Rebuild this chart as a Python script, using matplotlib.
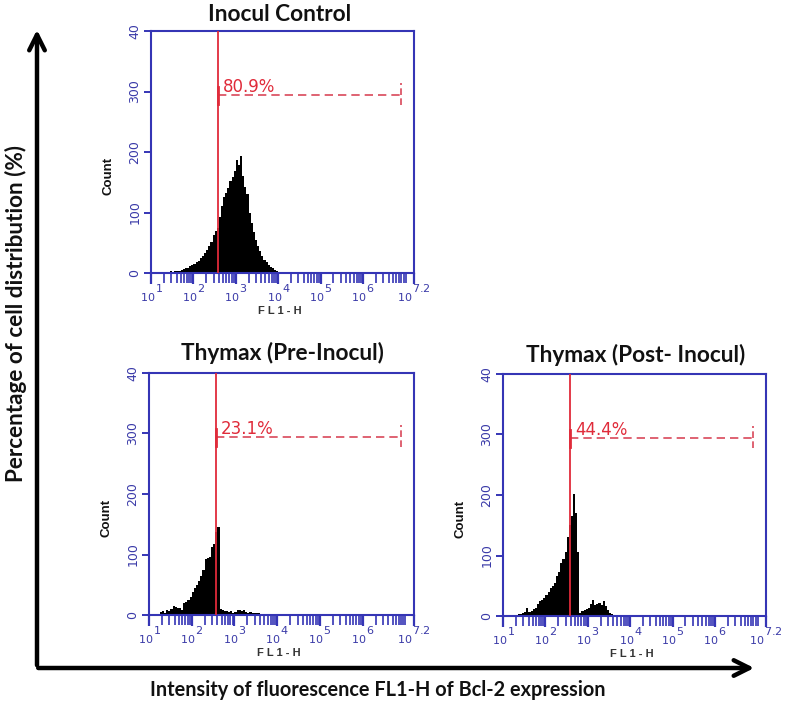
import numpy as np
import matplotlib
matplotlib.use('Agg')
import matplotlib.pyplot as plt
from matplotlib.patches import FancyArrowPatch
from matplotlib.ticker import FixedLocator, FixedFormatter, NullFormatter

# ---------------- data ----------------
titles = ['Inocul Control', 'Thymax (Pre-Inocul)', 'Thymax (Post- Inocul)']
percent_labels = ['80.9%', '23.1%', '44.4%']

# histogram channel edges (log10 of FL1-H), 0.05-decade channels from 10^1.10 to 10^4.05
bin_log_edges = np.round(np.arange(1.10, 4.0501, 0.05), 3)

counts_control = [0, 0, 0, 0, 0, 1, 0, 3, 2, 3, 4, 3, 5, 6, 8, 9, 12, 13, 15, 19,
                  20, 25, 28, 33, 38, 45, 52, 62, 70, 75, 92, 110, 126, 132, 140, 152,
                  158, 168, 186, 178, 194, 160, 142, 130, 100, 82, 68, 55, 45, 36, 28,
                  22, 18, 14, 10, 8, 5, 3, 0]
counts_pre = [2, 0, 1, 5, 6, 4, 8, 7, 10, 15, 14, 12, 11, 9, 20, 22, 25, 30, 38, 45,
              50, 56, 65, 75, 92, 95, 96, 112, 118, 138, 146, 10, 8, 6, 7, 5, 6, 4, 5,
              8, 9, 7, 8, 5, 4, 5, 3, 4, 3, 3, 2, 2, 1, 1, 0, 0, 0, 0, 0]
counts_post = [0, 0, 0, 0, 2, 3, 4, 5, 6, 14, 6, 8, 11, 13, 20, 24, 27, 30, 34, 39,
               46, 50, 55, 66, 72, 88, 95, 105, 130, 150, 165, 202, 170, 105, 5, 8, 10,
               12, 14, 20, 26, 18, 20, 22, 18, 25, 16, 10, 5, 3, 1, 0, 0, 0, 0, 0, 0, 0, 0]
all_counts = [counts_control, counts_pre, counts_post]

cursor_log = [2.58, 2.57, 2.58]      # marker position (log10)
gate_end_log = 6.9                    # right end of the M1 gate (log10)
gate_level = 294                      # height of the gate line (count)

ytick_values = [0, 100, 200, 300, 400]
ytick_labels = ['0', '100', '200', '300', '40']
xtick_logs = [1, 2, 3, 4, 5, 6, 7.2]
xtick_labels = [r'${}_{10}{}^{1}$', r'${}_{10}{}^{2}$', r'${}_{10}{}^{3}$',
                r'${}_{10}{}^{4}$', r'${}_{10}{}^{5}$', r'${}_{10}{}^{6}$',
                r'${}_{10}{}^{7.2}$']

# ---------------- style ----------------
W, H = 787, 709
BLUE = '#3535b5'
LBLUE = '#3a3aa8'
RED = '#e02b3a'
DRED = '#d9485a'

fig = plt.figure(figsize=(W / 100, H / 100), dpi=100)
fig.patch.set_facecolor('white')

def rect(left, right, top, bottom):
    return [left / W, 1 - bottom / H, (right - left) / W, (bottom - top) / H]

rects = [rect(151, 414, 31, 273), rect(149, 414, 373, 615), rect(503, 766, 374, 616)]
title_x = [0.49, 0.505, 0.505]
title_y = [1.068, 1.083, 1.08]

minor_pos = [k * 10.0 ** d for d in range(1, 7) for k in range(2, 10)] + [1e7]

for i, r in enumerate(rects):
    ax = fig.add_axes(r)
    ax.set_xscale('log')
    ax.set_xlim(10 ** 1, 10 ** 7.2)
    ax.set_ylim(0, 400)
    ax.stairs(all_counts[i], 10.0 ** bin_log_edges, fill=True, color='black', lw=0)

    cx = 10 ** cursor_log[i]
    ax.plot([cx, cx], [0, 400], color=RED, lw=1.3, zorder=3)
    ax.plot([cx, 10 ** gate_end_log], [gate_level, gate_level], color=DRED, lw=1.2,
            dashes=(5, 3), zorder=3)
    ax.plot([cx, cx], [gate_level - 14, gate_level + 14], color=RED, lw=2.0, zorder=3)
    ax.plot([10 ** gate_end_log] * 2, [gate_level - 16, gate_level + 20], color=DRED,
            lw=1.2, dashes=(4, 2), zorder=3)
    ax.annotate(percent_labels[i], (cx, gate_level + 5), xytext=(3.5, 0),
                textcoords='offset points', color=RED, fontsize=12, va='baseline',
                ha='left')

    for s in ax.spines.values():
        s.set_color(BLUE)
        s.set_linewidth(1.5)

    ax.xaxis.set_major_locator(FixedLocator([10 ** v for v in xtick_logs]))
    ax.xaxis.set_major_formatter(FixedFormatter(xtick_labels))
    ax.xaxis.set_minor_locator(FixedLocator(minor_pos))
    ax.xaxis.set_minor_formatter(NullFormatter())
    ax.tick_params(axis='x', which='major', direction='out', length=8, width=1.6,
                   color=BLUE, labelcolor=LBLUE, labelsize=11.5, pad=-1)
    ax.tick_params(axis='x', which='minor', direction='out', length=7, width=1.2,
                   color=BLUE)
    ax.set_yticks(ytick_values)
    ax.set_yticklabels(ytick_labels, rotation=90, va='center')
    ax.tick_params(axis='y', which='major', direction='out', length=5, width=1.4,
                   color=BLUE, labelcolor=LBLUE, labelsize=9, pad=2)

    ax.text(-0.16, 0.40, 'Count', rotation=90, transform=ax.transAxes, ha='center',
            va='center', fontsize=9.5, color='#111111', fontweight='bold',
            family='Liberation Sans')
    ax.text(0.49, -0.155, 'F L 1 - H', transform=ax.transAxes, ha='center', va='center',
            fontsize=8, color='#333333', fontweight='bold', family='Liberation Sans')
    ax.text(title_x[i], title_y[i], titles[i], transform=ax.transAxes, ha='center',
            va='center', fontsize=16.3, fontweight='bold', family='Lato',
            color='#111111')

# big axes arrows
x0, y0 = 37, 668
fig.add_artist(FancyArrowPatch((x0 / W, 1 - y0 / H), (x0 / W, 1 - 27 / H),
                               transform=fig.transFigure, arrowstyle='->',
                               mutation_scale=28, lw=3.2, color='black'))
fig.add_artist(FancyArrowPatch((x0 / W - 0.002, 1 - y0 / H), (757 / W, 1 - y0 / H),
                               transform=fig.transFigure, arrowstyle='->',
                               mutation_scale=28, lw=3.2, color='black'))

fig.text(16 / W, 1 - 314 / H, 'Percentage of cell distribution (%)', rotation=90,
         ha='center', va='center', fontsize=16.2, fontweight='bold', family='Lato',
         color='#111111')
fig.text(378 / W, 1 - 690 / H, 'Intensity of fluorescence FL1-H of Bcl-2 expression',
         ha='center', va='center', fontsize=14.3, fontweight='bold', family='Lato',
         color='#111111')

fig.savefig('out.png', dpi=100, facecolor='white')
